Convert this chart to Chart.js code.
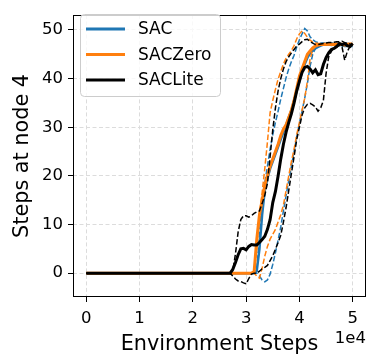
<!DOCTYPE html>
<html><head><meta charset="utf-8">
<script src="https://cdn.jsdelivr.net/npm/chart.js@4.4.0/dist/chart.umd.min.js"></script>
<style>html,body{margin:0;padding:0;background:#fff}#wrap{width:373px;height:361px;position:relative}</style>
</head><body><div id="wrap"><canvas id="c" width="373" height="361"></canvas></div>
<script>
const steps=[0,1000,2000,3000,4000,5000,6000,7000,8000,9000,10000,11000,12000,13000,14000,15000,16000,17000,18000,19000,20000,21000,22000,23000,24000,25000,26000,
27000,27500,28000,28500,29000,29500,30000,30500,31000,31500,32000,32500,33000,33500,34000,34500,35000,35500,36000,36500,37000,37500,38000,38500,39000,39500,40000,40500,41000,41500,42000,42500,43000,43500,44000,44500,45000,45500,46000,46500,47000,47500,48000,48500,49000,49500,50000];

const sacMean=[0,0,0,0,0,0,0,0,0,0,0,0,0,0,0,0,0,0,0,0,0,0,0,0,0,0,0,
0,0,0,0,0,0,0,0,0,0,0.5,5,12,17,19.5,21.5,23,24.5,26,27.5,29,30.5,32,33.5,35.5,37.5,39.5,41.5,43,44.3,45.2,45.8,46.2,46.5,46.8,47.0,47.0,47.0,46.9,47.0,47.0,46.9,46.9,46.8,46.8,46.8,46.8];
const sacUpper=[0,0,0,0,0,0,0,0,0,0,0,0,0,0,0,0,0,0,0,0,0,0,0,0,0,0,0,
0,0,0,0,0,0,0,0,0,0,0.3,8,15,18.5,22,25.5,28.5,31,33.3,35.8,38,40.2,42,43.5,44.8,46.5,48,49.2,50.3,49.8,48.6,48.0,47.6,47.4,47.3,47.3,47.3,47.3,47.3,47.3,47.3,47.2,47.3,47.3,47.2,47.2,47.1];
const sacLower=[0,0,0,0,0,0,0,0,0,0,0,0,0,0,0,0,0,0,0,0,0,0,0,0,0,0,0,
0,0,0,0,0,0,0,0,0,0,0,-0.6,-1.4,-1.8,-1.4,-0.2,1.8,4.2,6.8,9.5,12.8,16.0,19.0,22.0,25.0,28.0,30.8,33.3,36.0,39.0,42.5,45.0,46.2,46.7,46.9,47,47,46.9,46.9,46.8,46.8,46.8,46.7,46.6,46.6,46.6,46.6];

const zeroMean=[0,0,0,0,0,0,0,0,0,0,0,0,0,0,0,0,0,0,0,0,0,0,0,0,0,0,0,
0,0,0,0,0,0,0,0,0,0.3,7,12,15,18,20,22,23.5,25,26.5,28.3,29.6,30.5,32,33.5,35.5,38,40.5,42,43.5,45,45.7,46.3,46.7,46.9,47.0,47.0,47.0,47.1,47.0,47.0,47.1,47.0,47.0,46.9,47.0,47.1,47.0];
const zeroUpper=[0,0,0,0,0,0,0,0,0,0,0,0,0,0,0,0,0,0,0,0,0,0,0,0,0,0,0,
0,0,0,0,0,0,0,0,0,0.5,5,12,16.5,21.5,27,33,35.5,37.8,39.9,41.5,43,44.2,45,45.8,46.8,48.2,49.2,49.8,49.3,48.5,47.9,47.5,47.3,47.2,47.2,47.2,47.2,47.2,47.2,47.2,47.1,47.2,47.2,47.2,47.2,47.2,47.2];
const zeroLower=[0,0,0,0,0,0,0,0,0,0,0,0,0,0,0,0,0,0,0,0,0,0,0,0,0,0,0,
0,0,0,0,0,0,0,0,0,0,-0.6,-1.0,1.0,3.5,5.5,7.0,8.0,9.0,10.5,12.0,14.0,17.0,20.0,23.0,25.5,28.5,31.0,33.5,36.0,39.5,44.0,46.0,46.7,47.0,46.9,47.0,46.9,47.0,46.9,46.9,47.0,46.9,46.9,46.8,46.9,46.9,46.8];

const liteMean=[0,0,0,0,0,0,0,0,0,0,0,0,0,0,0,0,0,0,0,0,0,0,0,0,0,0,0,
0,0.8,2.2,3.8,5.0,5.1,4.8,5.5,5.9,5.8,5.8,6.3,6.9,7.6,9.0,11.0,14.5,16.8,20.0,23.5,26.5,29.0,31.0,32.8,35.0,37.5,39.5,41.3,42.3,42.5,42.0,41.2,41.8,40.8,41.0,42.9,44.3,45.3,46.0,46.2,46.6,47.2,47.0,47.2,46.8,46.6,47.2];
const liteUpper=[0,0,0,0,0,0,0,0,0,0,0,0,0,0,0,0,0,0,0,0,0,0,0,0,0,0,0,
0,0.5,4.0,8.5,11.0,11.8,11.8,11.5,11.8,12.3,12.6,12.8,14.3,16.0,18.5,24.0,29.5,34.0,37.5,40.0,42.0,43.5,44.5,45.3,46.0,46.7,47.1,47.6,48.0,48.1,47.6,47.3,47.0,47.0,47.1,47.2,47.3,47.4,47.4,47.5,47.6,47.6,47.7,47.4,47.3,47.1,46.9];
const liteLower=[0,0,0,0,0,0,0,0,0,0,0,0,0,0,0,0,0,0,0,0,0,0,0,0,0,0,0,
0,-0.6,-1.2,-1.6,-1.7,-2.0,-2.2,-1.1,-0.2,0,0,0.4,0.9,1.2,1.6,2.6,3.6,4.9,6.3,7.8,10.5,13.5,17.0,20.5,24.0,27.5,30.0,32.5,34.0,34.7,34.9,34.6,34.2,33.3,34.0,35.5,41.0,44.5,45.6,46.3,46.6,46.8,46.5,43.8,45.6,46.6,47.0];

const seriesNames=['SAC','SACZero','SACLite'];
const seriesColors=['#1f77b4','#ff7f0e','#000000'];
const xTicks=[0,10000,20000,30000,40000,50000];
const xTickLabels=['0','1','2','3','4','5'];
const yTicks=[0,10,20,30,40,50];
const yTickLabels=['0','10','20','30','40','50'];
const xTitle='Environment Steps';
const yTitle='Steps at node 4';
const xOffsetText='1e4';

const FONT='"DejaVu Sans", sans-serif';
function pts(arr){return steps.map((s,i)=>({x:s,y:arr[i]}));}
function solid(label,arr,color,w){return {label,data:pts(arr),borderColor:color,borderWidth:w,pointRadius:0,tension:0,fill:false};}
function dashed(arr,color){return {label:'',data:pts(arr),borderColor:color,borderWidth:1.5,borderDash:[5.5,2.4],pointRadius:0,tension:0,fill:false};}

// first dataset is drawn on top
const datasets=[
  solid(seriesNames[2],liteMean,seriesColors[2],3),
  dashed(liteUpper,seriesColors[2]),
  dashed(liteLower,seriesColors[2]),
  solid(seriesNames[1],zeroMean,seriesColors[1],3),
  dashed(zeroUpper,seriesColors[1]),
  dashed(zeroLower,seriesColors[1]),
  solid(seriesNames[0],sacMean,seriesColors[0],2.5),
  dashed(sacUpper,seriesColors[0]),
  dashed(sacLower,seriesColors[0])
];

const overlay={id:'overlay',afterDraw(chart){
  const ctx=chart.ctx,a=chart.chartArea;
  ctx.save();
  ctx.strokeStyle='#000';ctx.lineWidth=1;
  ctx.strokeRect(Math.round(a.left)+0.5,Math.round(a.top)+0.5,Math.round(a.right-a.left)-1,Math.round(a.bottom-a.top)-1);
  ctx.fillStyle='#000';
  ctx.font='20.8px '+FONT;
  ctx.textAlign='center';ctx.textBaseline='alphabetic';
  ctx.fillText(xTitle,(a.left+a.right)/2,350);
  ctx.save();
  ctx.translate(27.5,(a.top+a.bottom)/2);
  ctx.rotate(-Math.PI/2);
  ctx.fillText(yTitle,0,0);
  ctx.restore();
  ctx.font='16.5px '+FONT;ctx.textAlign='right';
  ctx.fillText(xOffsetText,366,343);
  const lx=80,ly=14,lw=140,lh=82;
  ctx.beginPath();
  if(ctx.roundRect){ctx.roundRect(lx+0.5,ly+0.5,lw,lh,4);}else{ctx.rect(lx+0.5,ly+0.5,lw,lh);}
  ctx.fillStyle='rgba(255,255,255,0.8)';ctx.fill();
  ctx.strokeStyle='#cccccc';ctx.lineWidth=1;ctx.stroke();
  const rows=[29,54.5,80];
  ctx.font='17px '+FONT;ctx.textAlign='left';ctx.textBaseline='middle';
  for(let i=0;i<3;i++){
    ctx.beginPath();ctx.moveTo(86,rows[i]);ctx.lineTo(125,rows[i]);
    ctx.strokeStyle=seriesColors[i];ctx.lineWidth=3;ctx.stroke();
    ctx.fillStyle='#000';ctx.fillText(seriesNames[i],138,rows[i]+1);
  }
  ctx.restore();
}};

new Chart(document.getElementById('c').getContext('2d'),{
  type:'line',
  data:{datasets},
  options:{
    responsive:false,devicePixelRatio:1,animation:false,
    layout:{padding:{top:6,right:7,left:0,bottom:0}},
    plugins:{legend:{display:false},tooltip:{enabled:false}},
    scales:{
      x:{type:'linear',min:-2500,max:52500,
        afterBuildTicks:s=>{s.ticks=xTicks.map(v=>({value:v}));},
        afterFit:s=>{s.height=64;},
        ticks:{callback:(v)=>xTickLabels[xTicks.indexOf(v)],font:{family:FONT,size:16.5},color:'#000',padding:7,maxRotation:0,autoSkip:false},
        grid:{color:'#dcdcdc',lineWidth:1,drawTicks:true,tickLength:5,tickColor:'#000',tickWidth:1},
        border:{display:false,dash:[4,2.5]}
      },
      y:{type:'linear',min:-4.9,max:53.1,
        afterBuildTicks:s=>{s.ticks=yTicks.map(v=>({value:v}));},
        afterFit:s=>{s.width=73;},
        ticks:{callback:(v)=>yTickLabels[yTicks.indexOf(v)],font:{family:FONT,size:16.5},color:'#000',padding:5,autoSkip:false},
        grid:{color:'#dcdcdc',lineWidth:1,drawTicks:true,tickLength:5,tickColor:'#000',tickWidth:1},
        border:{display:false,dash:[4,2.5]}
      }
    }
  },
  plugins:[overlay]
});
</script></body></html>
